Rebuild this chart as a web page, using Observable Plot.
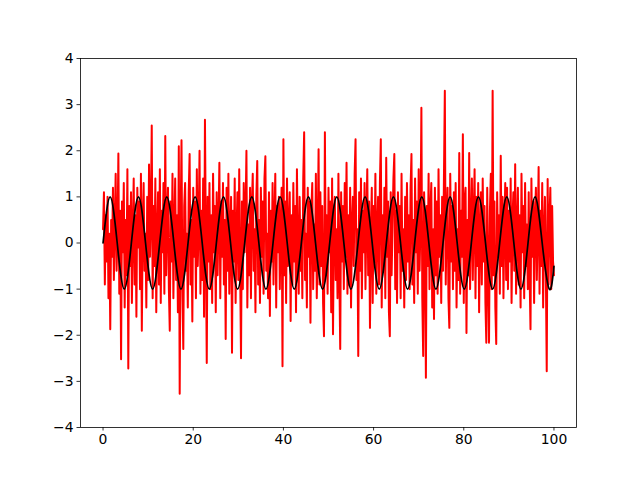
<!DOCTYPE html>
<html>
<head>
<meta charset="utf-8">
<script src="https://cdn.jsdelivr.net/npm/d3@7"></script>
<script src="https://cdn.jsdelivr.net/npm/@observablehq/plot@0.6"></script>
<style>
  html, body { margin: 0; padding: 0; background: #fff; }
</style>
</head>
<body>
<div id="chart"></div>
<script>
// Noisy red series, sampled evenly from x = 0 to x = 100
const noiseY = [
  0.3, 1.1, -0.9, 0.6, -0.4, 1.0, -1.2, 0.2, -1.87, 0.5,
  -0.3, 1.2, -0.8, 0.4, 1.5, -0.6, 0.1, 1.94, -1.1, 0.7,
  -2.52, 0.9, -0.2, 1.3, -1.4, 0.5, -0.7, 1.6, -2.72, 0.8,
  -0.5, 1.1, -1.3, 0.3, 1.4, -0.9, 0.6, -1.6, 1.2, -0.1,
  0.9, -1.0, 1.5, -1.9, 0.4, 1.3, -0.6, 0.2, -1.4, 1.0,
  -0.8, 1.7, -0.3, 0.6, 2.55, -1.2, 0.8, -0.5, 1.4, -1.5,
  0.2, 1.1, -0.9, 1.6, -1.3, 0.7, -0.2, 1.3, -1.1, 2.32,
  -0.7, 0.5, 1.2, -1.0, -1.9, 0.9, -0.4, 1.5, -1.2, 0.3,
  1.4, -0.8, 0.6, -1.5, 2.1, -3.27, 0.4, 2.23, -1.0, -2.3,
  0.8, 1.3, -0.6, 0.2, -1.4, 1.1, 1.93, -0.9, 0.5, -1.7,
  1.2, -0.3, 0.9, -1.2, 1.6, -0.5, 0.3, 2.0, -1.1, 0.7,
  -0.8, 1.4, -1.6, 2.67, 0.1, -2.6, 1.0, -0.4, 1.3, -1.0,
  0.6, -1.3, 1.5, -0.2, 0.8, -1.5, 1.1, -0.7, 0.4, 1.74,
  -1.2, 0.9, -0.3, 1.3, -0.9, 0.5, -2.08, 1.2, -0.6, 1.5,
  -1.1, 0.3, 1.0, -2.38, 0.7, -0.4, 1.4, -1.3, 0.2, 1.1,
  -0.8, 1.6, -0.5, -2.5, 0.9, -1.0, 1.3, -0.2, 0.6, 2.0,
  -1.4, 0.4, -0.7, 1.2, -1.2, 0.8, 1.5, -0.6, 0.3, -1.5,
  1.0, 1.78, -0.9, 0.5, -1.3, 1.2, -0.3, 0.9, -1.1, 1.4,
  1.88, -0.6, 0.2, -1.2, 1.1, -1.58, 0.7, -0.4, 1.3, -0.9,
  0.5, 1.5, -1.4, 0.8, -0.2, 1.0, -1.0, 0.4, 1.2, -2.67,
  2.25, -0.7, 0.9, -1.3, 1.4, -0.5, 0.3, 1.1, -1.69, 0.6,
  -0.9, 1.3, -0.4, 0.8, -1.5, 1.6, -0.1, -1.1, 1.0, -0.6,
  0.5, -1.2, 1.4, 2.4, -0.8, 0.2, -1.4, 1.2, -0.3, 0.9,
  -1.73, 0.7, 1.3, -1.0, 0.4, -0.6, 1.5, -1.2, 0.1, 2.03,
  -0.9, 1.1, -0.5, 0.8, -1.3, -2.02, 2.4, -0.7, 0.6, -1.1,
  1.2, -0.2, 0.9, -1.5, 1.4, -1.98, 0.5, 1.0, -0.8, 0.3,
  -1.2, 1.5, -0.6, -2.3, 1.1, -0.4, 0.8, -1.0, 1.3, -0.3,
  1.74, -1.1, 0.6, -0.9, 1.2, -1.4, 0.4, 1.0, -0.5, 1.5,
  2.25, -0.8, 0.3, -2.45, 1.1, -0.6, 1.4, -1.2, 0.7, -0.2,
  1.3, -1.0, 0.5, 1.6, -0.7, 0.9, -1.84, 0.2, 1.2, -1.3,
  0.8, -0.4, 1.5, -1.1, 0.3, 1.0, -0.9, 1.3, 2.25, -1.4,
  0.6, -0.5, 1.2, -1.2, 1.85, -0.3, 0.9, -1.5, -2.02, 1.1,
  -0.7, 0.4, 1.4, 1.93, -1.0, 0.7, -1.3, 1.1, -0.2, 0.8,
  -1.2, 1.5, -0.6, 0.3, -1.4, 1.0, -0.8, 1.3, -0.4, 0.6,
  -1.0, 1.2, 1.93, -0.9, 0.5, -1.3, 1.4, -0.2, 0.9, -1.1,
  1.6, -0.6, 0.4, 2.93, -1.2, -2.45, 1.1, 0.2, -2.92, 0.8,
  -0.5, 1.5, -1.0, 0.7, 1.3, -1.4, 0.3, -1.65, 1.2, -0.7,
  0.9, -1.1, 1.6, -0.3, 0.6, -1.3, 1.0, -0.6, 1.4, 3.3,
  -0.9, 0.5, 1.2, -1.2, -1.84, 1.5, -0.4, 0.8, -1.0, 1.1,
  -0.6, 1.3, -1.4, 0.3, -0.8, 1.95, -1.1, 0.7, -0.3, 2.36,
  -1.3, 0.9, 1.2, -1.95, 0.5, -0.7, 1.95, -1.0, 0.4, 1.4,
  -0.8, 0.6, 1.6, -1.2, 1.0, -0.5, 1.3, -1.5, 0.2, 1.1,
  -0.9, 1.4, -0.4, 0.8, -1.3, -2.16, 1.2, -0.6, -2.16, 0.7,
  1.5, -1.0, 3.3, -0.7, 0.9, -1.4, -2.19, 1.1, -0.3, 0.6,
  -1.1, 1.89, -0.5, 1.0, -1.2, 0.4, 1.3, -0.8, 1.2, -1.0,
  0.7, -0.4, 1.4, -1.3, 0.5, 1.1, -0.6, 1.71, -1.1, 0.3,
  1.2, -0.9, 0.6, -1.4, 1.5, -0.2, 0.8, -1.2, 1.3, -0.5,
  0.4, -1.0, 1.1, -0.7, -1.87, 1.4, -0.3, 0.9, -1.3, 0.6,
  1.2, -0.8, 0.3, 1.65, -1.1, 0.7, -0.5, 1.3, -1.4, 0.2,
  1.0, -0.6, -2.78, 1.39, -0.9, 0.5, 1.2, -1.0, 0.8, -0.4,
  -0.7
];
const xStart = 0;
const xEnd = 100;

// Black wave: its zero crossings, peaks and troughs
const waveX = [
  0, 1.571, 3.142, 4.712, 6.283, 7.854, 9.425, 10.996, 12.566, 14.137,
  15.708, 17.279, 18.850, 20.420, 21.991, 23.562, 25.133, 26.704, 28.274, 29.845,
  31.416, 32.987, 34.558, 36.128, 37.699, 39.270, 40.841, 42.412, 43.982, 45.553,
  47.124, 48.695, 50.265, 51.836, 53.407, 54.978, 56.549, 58.119, 59.690, 61.261,
  62.832, 64.403, 65.973, 67.544, 69.115, 70.686, 72.257, 73.827, 75.398, 76.969,
  78.540, 80.111, 81.681, 83.252, 84.823, 86.394, 87.965, 89.535, 91.106, 92.677,
  94.248, 95.819, 97.389, 98.960, 100
];
const waveY = [
  0, 1, 0, -1, 0, 1, 0, -1, 0, 1,
  0, -1, 0, 1, 0, -1, 0, 1, 0, -1,
  0, 1, 0, -1, 0, 1, 0, -1, 0, 1,
  0, -1, 0, 1, 0, -1, 0, 1, 0, -1,
  0, 1, 0, -1, 0, 1, 0, -1, 0, 1,
  0, -1, 0, 1, 0, -1, 0, 1, 0, -1,
  0, 1, 0, -1, -0.506
];

const xTicks = [0, 20, 40, 60, 80, 100];
const yTicks = [-4, -3, -2, -1, 0, 1, 2, 3, 4];
const xDomain = [-5, 105];
const yDomain = [-4, 4];

const noise = noiseY.map((y, i) => ({
  x: xStart + (i * (xEnd - xStart)) / (noiseY.length - 1),
  y
}));
const wave = waveX.map((x, i) => ({ x, y: waveY[i] }));

const chart = Plot.plot({
  width: 640,
  height: 480,
  marginLeft: 80,
  marginRight: 64,
  marginTop: 58,
  marginBottom: 53,
  style: {
    fontFamily: "DejaVu Sans, sans-serif",
    fontSize: "13.9px",
    color: "black",
    background: "white"
  },
  x: { domain: xDomain, ticks: xTicks, label: null },
  y: { domain: yDomain, ticks: yTicks, label: null },
  marks: [
    Plot.lineY(noise, { x: "x", y: "y", stroke: "red", strokeWidth: 2, strokeLinejoin: "round" }),
    Plot.line(wave, { x: "x", y: "y", stroke: "black", strokeWidth: 1.7, curve: "natural" }),
    Plot.frame({ stroke: "black", strokeWidth: 0.8 }),
    Plot.axisX({ ticks: xTicks, tickSize: 3.5, tickPadding: 3.5, label: null, strokeWidth: 0.8 }),
    Plot.axisY({ ticks: yTicks, tickSize: 3.5, tickPadding: 3.5, label: null, strokeWidth: 0.8 })
  ]
});
document.getElementById("chart").appendChild(chart);
</script>
</body>
</html>
